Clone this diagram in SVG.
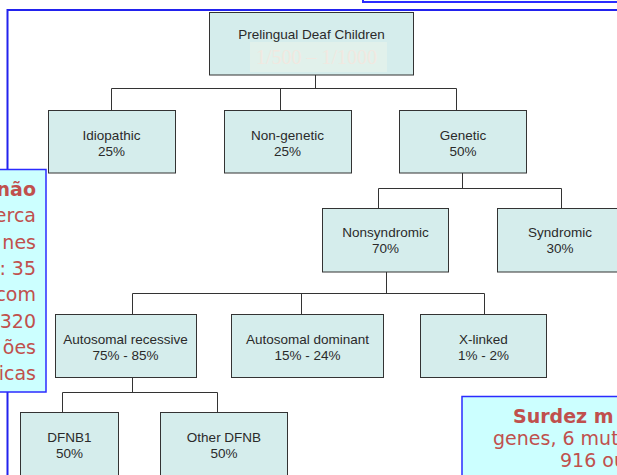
<svg xmlns="http://www.w3.org/2000/svg" width="617" height="475" viewBox="0 0 617 475">
  <style>
    .box { fill: #d5edec; stroke: #333333; stroke-width: 1; }
    .lbl { font-family: "Liberation Sans", Arial, sans-serif; font-size: 13.5px; fill: #2a2a2a; text-anchor: middle; }
    .conn { stroke: #333333; stroke-width: 1; fill: none; }
    .callout { fill: #ccffff; stroke: #2b2bff; stroke-width: 1.5; }
    .note { font-family: "DejaVu Sans", "Liberation Sans", sans-serif; font-size: 19px; fill: #c0504d; }
    .note-b { font-weight: bold; }
  </style>

  <rect x="0" y="0" width="617" height="475" fill="#ffffff"/>

  <!-- slide frame -->
  <g id="frame">
    <rect x="363" y="-10" width="270" height="12" fill="#f4ffff" stroke="#2b2bff" stroke-width="2"/>
    <path d="M7.5,476 V10 H618" fill="none" stroke="#2222ee" stroke-width="2"/>
  </g>

  <!-- connectors -->
  <g id="connectors" class="conn">
    <path d="M315.5,75 V88.5"/>
    <path d="M111.5,88.5 H456.5"/>
    <path d="M111.5,88.5 V110"/>
    <path d="M280.5,88.5 V110"/>
    <path d="M456.5,88.5 V110"/>

    <path d="M462.5,173 V188.5"/>
    <path d="M378.5,188.5 H561.5"/>
    <path d="M378.5,188.5 V208"/>
    <path d="M561.5,188.5 V208"/>

    <path d="M386.5,272 V293.5"/>
    <path d="M132.5,293.5 H484.5"/>
    <path d="M132.5,293.5 V314"/>
    <path d="M301.5,293.5 V314"/>
    <path d="M484.5,293.5 V314"/>

    <path d="M132.5,377 V392.5"/>
    <path d="M62.5,392.5 H217.5"/>
    <path d="M62.5,392.5 V412"/>
    <path d="M217.5,392.5 V412"/>
  </g>

  <!-- tree nodes -->
  <g id="node-root">
    <rect class="box" x="209.5" y="12.5" width="204" height="62.5"/>
    <rect x="250" y="42" width="137" height="30" fill="#e1f1eb"/>
    <text x="316.5" y="64" font-family="'Liberation Serif', 'Times New Roman', serif" font-size="20" fill="#f1e8e0" text-anchor="middle">1/500 – 1/1000</text>
    <text class="lbl" x="311.5" y="39">Prelingual Deaf Children</text>
  </g>

  <g id="node-idiopathic">
    <rect class="box" x="48.5" y="110.5" width="127" height="62.5"/>
    <text class="lbl" x="111.5" y="140">Idiopathic</text>
    <text class="lbl" x="111.5" y="156">25%</text>
  </g>

  <g id="node-nongenetic">
    <rect class="box" x="224.5" y="110.5" width="127" height="62.5"/>
    <text class="lbl" x="287.5" y="140">Non-genetic</text>
    <text class="lbl" x="287.5" y="156">25%</text>
  </g>

  <g id="node-genetic">
    <rect class="box" x="399.5" y="110.5" width="127" height="62.5"/>
    <text class="lbl" x="463" y="140">Genetic</text>
    <text class="lbl" x="463" y="156">50%</text>
  </g>

  <g id="node-nonsyndromic">
    <rect class="box" x="322.5" y="208.5" width="126" height="63.5"/>
    <text class="lbl" x="385.5" y="237">Nonsyndromic</text>
    <text class="lbl" x="385.5" y="253">70%</text>
  </g>

  <g id="node-syndromic">
    <rect class="box" x="497.5" y="208.5" width="126" height="63.5"/>
    <text class="lbl" x="560" y="237">Syndromic</text>
    <text class="lbl" x="560" y="253">30%</text>
  </g>

  <g id="node-ar">
    <rect class="box" x="55.5" y="314.5" width="141" height="63"/>
    <text class="lbl" x="125.5" y="343.5">Autosomal recessive</text>
    <text class="lbl" x="125.5" y="360">75% - 85%</text>
  </g>

  <g id="node-ad">
    <rect class="box" x="231.5" y="314.5" width="152" height="63"/>
    <text class="lbl" x="307.5" y="343.5">Autosomal dominant</text>
    <text class="lbl" x="307.5" y="360">15% - 24%</text>
  </g>

  <g id="node-xlinked">
    <rect class="box" x="420.5" y="314.5" width="126" height="63"/>
    <text class="lbl" x="483.5" y="343.5">X-linked</text>
    <text class="lbl" x="483.5" y="360">1% - 2%</text>
  </g>

  <g id="node-dfnb1">
    <rect class="box" x="20.5" y="412.5" width="98" height="70"/>
    <text class="lbl" x="69.5" y="442">DFNB1</text>
    <text class="lbl" x="69.5" y="458">50%</text>
  </g>

  <g id="node-otherdfnb">
    <rect class="box" x="160.5" y="412.5" width="127" height="70"/>
    <text class="lbl" x="224" y="442">Other DFNB</text>
    <text class="lbl" x="224" y="458">50%</text>
  </g>

  <!-- side callouts -->
  <g id="callout-left">
    <rect class="callout" x="-10" y="169.5" width="56" height="222.5"/>
    <g class="note" text-anchor="end">
      <text class="note-b" x="36" y="196">não</text>
      <text x="36" y="222">erca</text>
      <text x="36" y="249">nes</text>
      <text x="36" y="275">: 35</text>
      <text x="36" y="301">com</text>
      <text x="36" y="328">320</text>
      <text x="36" y="354">ões</text>
      <text x="36" y="380">icas</text>
    </g>
  </g>

  <g id="callout-right">
    <rect class="callout" x="462" y="396.5" width="170" height="100"/>
    <g class="note">
      <text class="note-b" x="513" y="423">Surdez m</text>
      <text x="493" y="445">genes, 6 mut</text>
      <text x="560" y="467">916 ou</text>
    </g>
  </g>
</svg>
